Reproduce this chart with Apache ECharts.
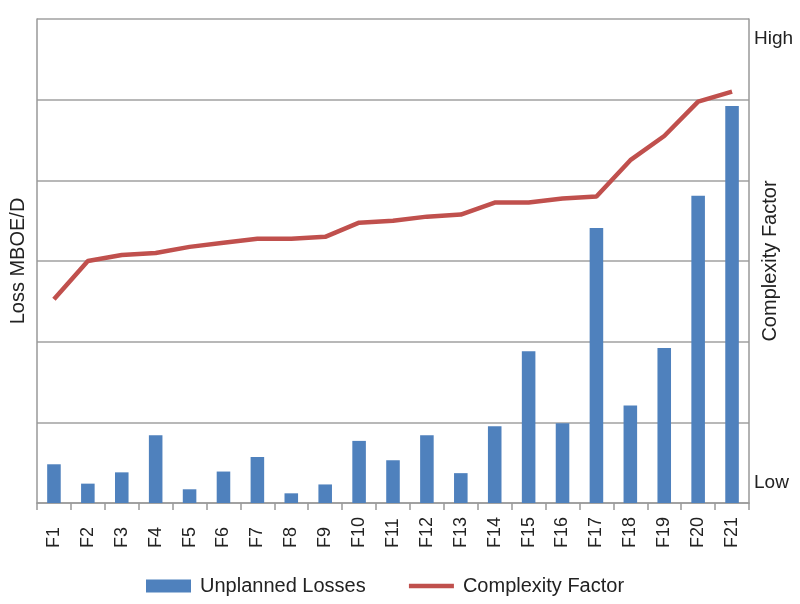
<!DOCTYPE html>
<html>
<head>
<meta charset="utf-8">
<script src="https://cdn.jsdelivr.net/npm/echarts@6/dist/echarts.min.js"></script>
<style>html,body{margin:0;padding:0;background:#fff}#c{width:800px;height:604px}</style>
</head>
<body>
<div id="c"></div>
<script>
var categories = ['F1','F2','F3','F4','F5','F6','F7','F8','F9','F10','F11','F12','F13','F14','F15','F16','F17','F18','F19','F20','F21'];
var unplannedLosses = [0.48,0.24,0.38,0.84,0.17,0.39,0.57,0.12,0.23,0.77,0.53,0.84,0.37,0.95,1.88,0.99,3.41,1.21,1.92,3.81,4.92];
var complexityFactor = [10.1,12.0,12.3,12.4,12.7,12.9,13.1,13.1,13.2,13.9,14.0,14.2,14.3,14.9,14.9,15.1,15.2,17.0,18.2,19.9,20.4];
var rightLabels = {1:'Low', 23:'High'};

var FONT = '"Liberation Sans", Arial, sans-serif';
var chart = echarts.init(document.getElementById('c'), null, {renderer:'canvas'});
chart.setOption({
  animation:false,
  backgroundColor:'#fff',
  textStyle:{fontFamily:FONT, color:'#222'},
  grid:{left:37, right:51, top:19, bottom:101, containLabel:false, outerBoundsMode:'none'},
  legend:{
    left:146, top:576, padding:0, itemWidth:45, itemHeight:13, itemGap:41,
    textStyle:{fontFamily:FONT, fontSize:20, color:'#222', padding:[0,0,0,4]},
    data:[
      {name:'Unplanned Losses', icon:'rect'},
      {name:'Complexity Factor', itemStyle:{opacity:0}, lineStyle:{width:4.5, color:'#C0504D'}}
    ]
  },
  xAxis:{
    type:'category', data:categories, boundaryGap:true,
    axisLine:{lineStyle:{color:'#999', width:1.5}},
    axisTick:{show:true, length:7, alignWithLabel:false, lineStyle:{color:'#999', width:1.5}},
    axisLabel:{rotate:90, align:'left', margin:45, fontSize:18, color:'#222', fontFamily:FONT, interval:0}
  },
  yAxis:[
    {
      type:'value', min:0, max:6, interval:1,
      name:'Loss MBOE/D', nameLocation:'middle', nameRotate:90, nameGap:9, nameMoveOverlap:false,
      nameTextStyle:{fontSize:20, color:'#222', fontFamily:FONT},
      axisLine:{show:true, lineStyle:{color:'#999', width:1.5}},
      axisTick:{show:false},
      axisLabel:{show:false},
      splitLine:{show:true, lineStyle:{color:'#a0a0a0', width:1.5}}
    },
    {
      type:'value', min:0, max:24, interval:1, position:'right',
      name:'Complexity Factor', nameLocation:'middle', nameRotate:90, nameGap:11, nameMoveOverlap:false,
      nameTextStyle:{fontSize:20, color:'#222', fontFamily:FONT},
      axisLine:{show:true, lineStyle:{color:'#999', width:1.5}},
      axisTick:{show:false},
      splitLine:{show:false},
      axisLabel:{show:true, margin:5, fontSize:19, color:'#222', fontFamily:FONT,
        formatter:function(v){ return rightLabels[v] || ''; }}
    }
  ],
  series:[
    {
      name:'Unplanned Losses', type:'bar', data:unplannedLosses, barWidth:'40%',
      itemStyle:{color:'#4F81BD'}
    },
    {
      name:'Complexity Factor', type:'line', yAxisIndex:1, data:complexityFactor,
      symbol:'none', showSymbol:false,
      lineStyle:{color:'#C0504D', width:4.5}, itemStyle:{color:'#C0504D'}
    }
  ]
});
</script>
</body>
</html>
